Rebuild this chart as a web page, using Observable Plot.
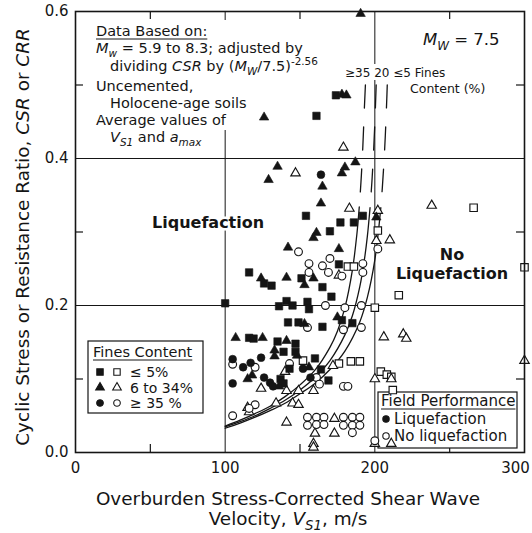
<!DOCTYPE html>
<html><head><meta charset="utf-8">
<script src="https://cdn.jsdelivr.net/npm/d3@7"></script>
<script src="https://cdn.jsdelivr.net/npm/@observablehq/plot@0.6"></script>
<style>body{margin:0;background:#fff}</style>
</head><body><div id="chart"></div>
<script>
// ---- tick values ----
const xTicks = [0, 100, 200];
const xTickEdge = [300];
const yTicks = [0, 0.2, 0.4, 0.6];
const xGrid = [100, 200];
const yGrid = [0.2, 0.4];
const xMinor = [50, 150, 250];
const yMinor = [0.1, 0.3, 0.5];

// ---- field case histories [Vs1 (m/s), CSR] ----
// Fines content <= 5 %
const liqSand = [[174,0.486],[161,0.458],[154,0.322],[192,0.322],[177,0.313],[186,0.313],[170,0.301],[176,0.256],[116,0.245],[126,0.23],[131,0.227],[151,0.237],[165,0.225],[100,0.203],[136,0.199],[141,0.206],[145,0.2],[155,0.205],[156,0.195],[171,0.212],[142,0.177],[149,0.177],[165,0.171],[178,0.18],[185,0.176],[116,0.156],[119,0.155],[135,0.151],[147,0.148],[139,0.137],[147,0.137],[160,0.128],[143,0.114],[164,0.113],[137,0.1],[139,0.094],[169,0.098]];
const noLiqSand = [[202,0.302],[182,0.253],[186,0.253],[200,0.197],[152,0.125],[176,0.121],[184,0.124],[190,0.124],[266,0.333],[300,0.252],[216,0.214],[204,0.11],[208,0.106],[211,0.103],[212,0.085]];
// Fines content 6 to 34 %
const liqSilty = [[190.5,0.597],[178,0.487],[181,0.486],[126,0.456],[187,0.395],[135,0.389],[180,0.388],[178,0.38],[129,0.371],[165,0.362],[164,0.339],[201,0.32],[161,0.299],[159,0.292],[142,0.279],[176,0.277],[124,0.237],[141,0.238],[153,0.228],[159,0.237],[153,0.175],[175,0.184],[107,0.156],[125,0.156],[141,0.152],[133,0.139],[133,0.131],[148,0.132],[156,0.116],[118,0.105],[115,0.1],[136,0.09]];
const noLiqSilty = [[179,0.415],[147,0.38],[183,0.332],[202,0.329],[201,0.288],[176,0.241],[140,0.11],[172,0.118],[124,0.087],[141,0.084],[149,0.084],[159,0.084],[115,0.061],[134,0.067],[145,0.067],[149,0.065],[116,0.055],[141,0.041],[173,0.046],[160,0.026],[173,0.026],[159,0.012],[159,0.007],[200,0.1],[238,0.336],[210,0.289],[206,0.157],[219,0.161],[221,0.155],[300,0.125],[211,0.1],[200,0.012],[211,0.012]];
// Fines content >= 35 %
const liqFine = [[164,0.378],[105,0.127],[124,0.129],[112,0.116],[117,0.122],[152,0.114],[105,0.094],[126,0.102],[130,0.095],[132,0.09],[157,0.102]];
const noLiqFine = [[202,0.277],[149,0.273],[156,0.257],[165,0.254],[170,0.264],[169,0.245],[156,0.245],[192,0.257],[192,0.245],[178,0.24],[167,0.2],[180,0.197],[191,0.2],[155,0.17],[179,0.167],[191,0.17],[105,0.12],[120,0.116],[143,0.121],[161,0.102],[163,0.093],[179,0.09],[182,0.09],[120,0.065],[116,0.06],[105,0.05],[155,0.048],[155,0.037],[161,0.048],[166,0.048],[161,0.038],[166,0.038],[179,0.048],[185,0.048],[190,0.048],[179,0.037],[185,0.037],[190,0.037],[185,0.027],[200,0.016]];

// ---- CRR boundary curves ----
const crrFines35 = [[100,0.036],[110,0.044],[120,0.053],[130,0.063],[140,0.076],[150,0.092],[160,0.112],[170,0.143],[175,0.165],[180,0.197],[185,0.248],[188,0.297],[189.6,0.334]];
const crrFines35Dash = [[193.7,0.5],[193,0.468],[192,0.417],[191,0.377],[190,0.345],[189.6,0.334]];
const crrFines20 = [[100,0.035],[110,0.042],[120,0.05],[130,0.06],[140,0.071],[150,0.085],[160,0.102],[170,0.125],[180,0.16],[185,0.186],[190,0.226],[193,0.262],[195,0.294],[196.8,0.333]];
const crrFines20Dash = [[200.9,0.5],[200,0.448],[199,0.403],[198,0.367],[196.8,0.333]];
const crrFines5 = [[100,0.033],[110,0.04],[120,0.048],[130,0.057],[140,0.067],[150,0.08],[160,0.094],[170,0.113],[180,0.138],[190,0.178],[195,0.211],[200,0.262],[204,0.333]];
const crrFines5Dash = [[208.3,0.5],[208,0.482],[207,0.431],[206,0.392],[205,0.36],[204,0.333]];

const FONT = "DejaVu Sans, Verdana, sans-serif";
const ink = "#151515";
const gx = d => d[0], gy = d => d[1];
const rSq = 4.2, rTri = 3.5, rCirc = 3.9;

const solid = (data) => Plot.line(data, {x: gx, y: gy, curve: "catmull-rom", stroke: ink, strokeWidth: 1.3});
const dashed = (data) => Plot.line(data, {x: gx, y: gy, curve: "catmull-rom", stroke: ink, strokeWidth: 1.3, strokeDasharray: "23,19"});
const filled = (data, symbol, r) => Plot.dot(data, {x: gx, y: gy, symbol, r, fill: ink, stroke: ink, strokeWidth: 0.6});
const open = (data, symbol, r) => Plot.dot(data, {x: gx, y: gy, symbol, r, fill: "white", stroke: ink, strokeWidth: 1.15});

const chart = Plot.plot({
  width: 532, height: 533,
  marginLeft: 75, marginRight: 8, marginTop: 11, marginBottom: 81,
  x: {domain: [0, 300]},
  y: {domain: [0, 0.6]},
  style: {fontFamily: FONT, background: "white", color: ink},
  marks: [
    Plot.ruleX(xGrid, {stroke: ink, strokeWidth: 1}),
    Plot.ruleY(yGrid, {stroke: ink, strokeWidth: 1}),
    Plot.ruleX(xMinor, {insetTop: 433, stroke: ink, strokeWidth: 1.2}),
    Plot.ruleX(xMinor, {insetBottom: 433, stroke: ink, strokeWidth: 1.2}),
    Plot.ruleY(yMinor, {insetRight: 441, stroke: ink, strokeWidth: 1.2}),
    Plot.ruleY(yMinor, {insetLeft: 441, stroke: ink, strokeWidth: 1.2}),
    solid(crrFines35), solid(crrFines20), solid(crrFines5),
    dashed(crrFines35Dash), dashed(crrFines20Dash), dashed(crrFines5Dash),
    open(noLiqSand, "square", rSq),
    open(noLiqSilty, "triangle", rTri),
    open(noLiqFine, "circle", rCirc),
    filled(liqSand, "square", rSq),
    filled(liqSilty, "triangle", rTri),
    filled(liqFine, "circle", rCirc),
    Plot.frame({stroke: ink, strokeWidth: 1.6}),
    Plot.axisX({ticks: xTicks, tickSize: 0, tickPadding: 10, fontSize: 15, label: null}),
    Plot.axisX({ticks: xTickEdge, tickSize: 0, tickPadding: 10, fontSize: 15, label: null, dx: -9}),
    Plot.axisY({ticks: yTicks, tickSize: 0, tickPadding: 7, fontSize: 15, label: null, tickFormat: d => d.toFixed(1)})
  ]
});
document.getElementById("chart").appendChild(chart);

// ---- annotation layers ----
const NS = "http://www.w3.org/2000/svg";
const firstDot = chart.querySelector('g[aria-label="dot"]');
const underNode = document.createElementNS(NS, "g");
chart.insertBefore(underNode, firstDot);
const under = d3.select(underNode);
const over = d3.select(chart).append("g");

function rich(g, x, y, segs, size, opts = {}) {
  const t = g.append("text").attr("x", x).attr("y", y).attr("font-size", size)
    .attr("text-anchor", opts.anchor || "start").attr("fill", ink);
  if (opts.weight) t.attr("font-weight", opts.weight);
  if (opts.transform) t.attr("transform", opts.transform);
  if (opts.halo) t.attr("stroke", "white").attr("stroke-width", opts.halo).attr("paint-order", "stroke").attr("stroke-linejoin", "round");
  let shift = 0;
  for (const s of segs) {
    const seg = typeof s === "string" ? {t: s} : s;
    const target = seg.sub ? size * 0.28 : seg.sup ? -size * 0.42 : 0;
    const sp = t.append("tspan").text(seg.t);
    if (target !== shift) { sp.attr("dy", target - shift); shift = target; }
    if (seg.sub || seg.sup) sp.attr("font-size", size * 0.72);
    if (seg.i) sp.attr("font-style", "italic");
  }
  return t;
}
function underline(g, t, x, y) {
  const w = t.node().getComputedTextLength();
  g.append("line").attr("x1", x).attr("x2", x + w).attr("y1", y).attr("y2", y).attr("stroke", ink).attr("stroke-width", 1);
}
function sym(g, type, cx, cy, r, fillColor) {
  g.append("path").attr("d", d3.symbol().type(type).size(Math.PI * r * r)())
    .attr("transform", `translate(${cx},${cy})`)
    .attr("fill", fillColor).attr("stroke", ink).attr("stroke-width", 1.1);
}

// knockouts behind text
under.append("rect").attr("x", 91).attr("y", 20).attr("width", 242).attr("height", 110).attr("fill", "white");
under.append("rect").attr("x", 343).attr("y", 64).attr("width", 112).attr("height", 16).attr("fill", "white");
under.append("rect").attr("x", 407).attr("y", 81).attr("width", 82).attr("height", 16).attr("fill", "white");

// Fines content legend
under.append("rect").attr("x", 88).attr("y", 341).attr("width", 115).attr("height", 72)
  .attr("fill", "white").attr("stroke", ink).attr("stroke-width", 1.2);
const fcT = rich(under, 93, 357, ["Fines Content"], 14.5);
underline(under, fcT, 93, 360);
const legendRows = [[d3.symbolSquare, "≤ 5%", 3.6], [d3.symbolTriangle, "6 to 34%", 3.2], [d3.symbolCircle, "≥ 35 %", 3.3]];
legendRows.forEach(([type, label, r], i) => {
  const cy = 372 + i * 15.5;
  sym(under, type, 100, cy, r, ink);
  sym(under, type, 117, cy, r, "white");
  rich(under, 130, cy + 5, [label], 14);
});

// Field performance legend
under.append("rect").attr("x", 378).attr("y", 392).attr("width", 139).attr("height", 56)
  .attr("fill", "white").attr("stroke", ink).attr("stroke-width", 1.2);
const fpT = rich(under, 381, 406, ["Field Performance"], 15);
underline(under, fpT, 381, 409);
sym(under, d3.symbolCircle, 386, 419, 3.2, ink);
rich(under, 394, 424, ["Liquefaction"], 15);
sym(under, d3.symbolCircle, 386, 436, 3.2, "white");
rich(under, 394, 441, ["No liquefaction"], 15);

// top-left notes
const TL = 14.5;
const dbT = rich(over, 96, 36, ["Data Based on:"], TL);
underline(over, dbT, 96, 39);
rich(over, 96, 52.5, [{t: "M", i: true}, {t: "w", i: true, sub: true}, " = 5.9 to 8.3; adjusted by"], TL);
rich(over, 110, 71, ["dividing ", {t: "CSR", i: true}, " by (", {t: "M", i: true}, {t: "W", i: true, sub: true}, "/7.5)", {t: "-2.56", sup: true}], TL);
rich(over, 96, 91, ["Uncemented,"], TL);
rich(over, 110, 107.5, ["Holocene-age soils"], TL);
rich(over, 96, 125, ["Average values of"], TL);
rich(over, 110, 141.5, [{t: "V", i: true}, {t: "S1", i: true, sub: true}, " and ", {t: "a", i: true}, {t: "max", i: true, sub: true}], TL);

// magnitude and curve labels
rich(over, 423, 45, [{t: "M", i: true}, {t: "W", i: true, sub: true}, " = 7.5"], 16.5);
rich(over, 345, 77, ["≥35 20 ≤5 Fines"], 12);
rich(over, 410, 93, ["Content (%)"], 12.5);

// region labels
rich(over, 152, 228, ["Liquefaction"], 16, {weight: "bold", halo: 5});
rich(over, 452, 260, ["No"], 16, {weight: "bold", anchor: "middle", halo: 5});
rich(over, 452, 279, ["Liquefaction"], 16, {weight: "bold", anchor: "middle", halo: 5});

// axis titles
rich(over, 288, 505, ["Overburden Stress-Corrected Shear Wave"], 18.4, {anchor: "middle"});
rich(over, 288, 525, ["Velocity, ", {t: "V", i: true}, {t: "S1", i: true, sub: true}, ", m/s"], 18.4, {anchor: "middle"});
rich(over, 0, 0, ["Cyclic Stress or Resistance Ratio, ", {t: "CSR", i: true}, " or ", {t: "CRR", i: true}], 18.4,
  {anchor: "middle", transform: "translate(29,237) rotate(-90)"});
</script>
</body></html>
